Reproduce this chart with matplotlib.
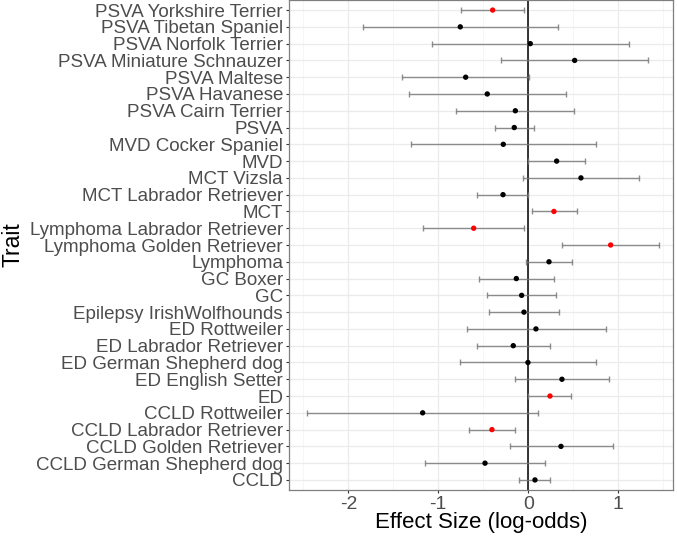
import matplotlib
matplotlib.use("Agg")
import matplotlib.pyplot as plt
import numpy as np

# Traits from bottom to top (as ordered on the y axis)
traits = [
    "CCLD", "CCLD German Shepherd dog", "CCLD Golden Retriever",
    "CCLD Labrador Retriever", "CCLD Rottweiler", "ED", "ED English Setter",
    "ED German Shepherd dog", "ED Labrador Retriever", "ED Rottweiler",
    "Epilepsy IrishWolfhounds", "GC", "GC Boxer", "Lymphoma",
    "Lymphoma Golden Retriever", "Lymphoma Labrador Retriever", "MCT",
    "MCT Labrador Retriever", "MCT Vizsla", "MVD", "MVD Cocker Spaniel",
    "PSVA", "PSVA Cairn Terrier", "PSVA Havanese", "PSVA Maltese",
    "PSVA Miniature Schnauzer", "PSVA Norfolk Terrier",
    "PSVA Tibetan Spaniel", "PSVA Yorkshire Terrier",
]
effect = [0.074, -0.481, 0.363, -0.404, -1.174, 0.241, 0.374, -0.004,
          -0.167, 0.085, -0.048, -0.074, -0.133, 0.230, 0.915, -0.607,
          0.285, -0.281, 0.585, 0.315, -0.278, -0.156, -0.144, -0.456,
          -0.696, 0.515, 0.022, -0.756, -0.396]
lower = [-0.100, -1.148, -0.207, -0.663, -2.459, 0.000, -0.144, -0.756,
         -0.570, -0.685, -0.437, -0.456, -0.544, -0.030, 0.374, -1.167,
         0.037, -0.567, -0.056, 0.000, -1.307, -0.367, -0.804, -1.326,
         -1.400, -0.304, -1.074, -1.841, -0.744]
upper = [0.241, 0.185, 0.937, -0.144, 0.111, 0.478, 0.900, 0.748,
         0.237, 0.867, 0.341, 0.311, 0.285, 0.489, 1.452, -0.044,
         0.544, 0.000, 1.233, 0.633, 0.752, 0.059, 0.511, 0.415,
         0.007, 1.333, 1.115, 0.333, -0.044]
significant = [False, False, False, True, False, True, False, False,
               False, False, False, False, False, False, True, True,
               True, False, False, False, False, False, False, False,
               False, False, False, False, True]

plt.rcParams["font.family"] = ["Liberation Sans", "DejaVu Sans"]
plt.rcParams["axes.unicode_minus"] = False

fig = plt.figure(figsize=(6.77, 5.37), dpi=100)
ax = fig.add_axes([0.4273, 0.0875, 0.5668, 0.9125])

y = np.arange(1, len(traits) + 1)
eff = np.array(effect)
lo = np.array(lower)
hi = np.array(upper)

# ggplot-like grid
ax.set_xticks([-2, -1, 0, 1])
ax.set_xticks([-2.5, -1.5, -0.5, 0.5, 1.5], minor=True)
ax.grid(which="major", color="#ebebeb", linewidth=0.9)
ax.grid(which="minor", axis="x", color="#f3f3f3", linewidth=0.5)
ax.set_axisbelow(True)

ax.axvline(0, color="black", linewidth=1.1, zorder=2)

ax.errorbar(eff, y, xerr=[eff - lo, hi - eff], fmt="none",
            ecolor="#7a7a7a", elinewidth=1.0, capsize=2.2, capthick=1.0,
            alpha=0.85, zorder=3)
colors = ["red" if s else "black" for s in significant]
ax.scatter(eff, y, s=15, c=colors, zorder=4, linewidths=0)

ax.set_xlim(-2.656, 1.608)
ax.set_ylim(0.4, len(traits) + 0.6)
ax.set_yticks(y)
ax.set_yticklabels(traits)
ax.tick_params(axis="y", labelsize=13.5, labelcolor="#4d4d4d",
               length=2.5, color="#333333", pad=2)
ax.tick_params(axis="x", labelsize=14, labelcolor="#4d4d4d",
               length=2.5, color="#333333", pad=2)
ax.tick_params(which="minor", length=0)

for s in ax.spines.values():
    s.set_color("#7f7f7f")
    s.set_linewidth(0.9)

ax.set_xlabel("Effect Size (log-odds)", fontsize=16, labelpad=-1)
ax.set_ylabel("Trait", fontsize=16.5, labelpad=4)

fig.savefig("out.png", dpi=100)
